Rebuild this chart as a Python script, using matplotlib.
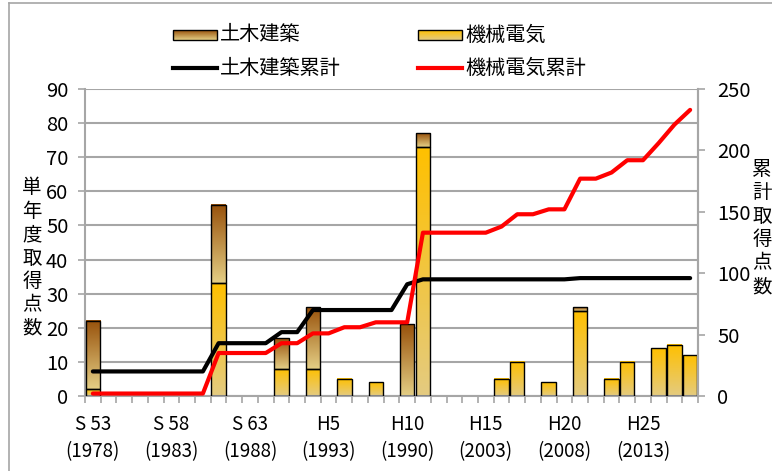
import numpy as np
import matplotlib.pyplot as plt
from matplotlib.colors import to_rgb
from matplotlib.patches import Rectangle

plt.rcParams['font.family'] = ['Noto Sans CJK JP', 'DejaVu Sans']

# fiscal years S53 (1978) .. H28 (2016)
years = list(range(1978, 2017))
civil = [20, 0, 0, 0, 0, 0, 0, 0, 23, 0,
         0, 0, 9, 0, 18, 0, 0, 0, 0, 0,
         21, 4, 0, 0, 0, 0, 0, 0, 0, 0,
         0, 1, 0, 0, 0, 0, 0, 0, 0]
mech = [2, 0, 0, 0, 0, 0, 0, 0, 33, 0,
        0, 0, 8, 0, 8, 0, 5, 0, 4, 0,
        0, 73, 0, 0, 0, 0, 5, 10, 0, 4,
        0, 25, 0, 5, 10, 0, 14, 15, 12]

tick_years = [1978, 1983, 1988, 1993, 1998, 2003, 2008, 2013]
era_labels = ['S 53', 'S 58', 'S 63', 'H5', 'H10', 'H15', 'H20', 'H25']
year_labels = ['(1978)', '(1983)', '(1988)', '(1993)', '(1990)', '(2003)', '(2008)', '(2013)']

CIVIL_TOP, CIVIL_BOT = '#98520C', '#E4CE84'
MECH_TOP, MECH_BOT = '#FFC000', '#E4CB80'
GRAY = '#A6A6A6'


def gradient(top, bot, n=64):
    c0 = np.array(to_rgb(bot))
    c1 = np.array(to_rgb(top))
    t = np.linspace(0, 1, n)[:, None]
    return (c0 + (c1 - c0) * t)[:, None, :]


def gradient_bar(ax, x, bottom, height, top, bot, width=0.92):
    if height <= 0:
        return
    ax.imshow(gradient(top, bot), extent=(x - width / 2, x + width / 2, bottom, bottom + height),
              origin='lower', aspect='auto', interpolation='bilinear', zorder=2)
    ax.bar(x, height, width, bottom=bottom, facecolor='none', edgecolor='black', lw=1, zorder=3)


fig = plt.figure(figsize=(7.72, 4.71), dpi=100)
ax = fig.add_axes([85 / 772, 75 / 471, 613 / 772, 307 / 471])

x = np.arange(len(years))
for i in range(len(years)):
    gradient_bar(ax, x[i], 0, mech[i], MECH_TOP, MECH_BOT)
    gradient_bar(ax, x[i], mech[i], civil[i], CIVIL_TOP, CIVIL_BOT)

ax.set_xlim(-0.5, len(years) - 0.5)
ax.set_ylim(0, 90)
ax.set_yticks(range(0, 91, 10))
ax.grid(axis='y', color=GRAY, lw=1.5, zorder=0)
ax.set_axisbelow(True)
for s in ['left', 'bottom', 'right']:
    ax.spines[s].set_color(GRAY)
    ax.spines[s].set_linewidth(1.5)
ax.spines['top'].set_visible(False)

pos = [years.index(y) for y in tick_years]
ax.set_xticks(pos, [f'{e}\n{y}' for e, y in zip(era_labels, year_labels)])
ax.set_xticks(np.arange(-0.5, len(years)), minor=True)
ax.tick_params(axis='x', which='major', length=0, pad=13, labelsize=13.5)
ax.tick_params(axis='x', which='minor', length=5, color=GRAY, width=1.2)
ax.tick_params(axis='y', length=5, color=GRAY, width=1.2, pad=7, labelsize=14.5)
for lab in ax.get_xticklabels():
    lab.set_linespacing(1.4)

# cumulative totals on the right axis
ax2 = ax.twinx()
ax2.plot(x, np.cumsum(civil), color='black', lw=3, solid_capstyle='round', zorder=4)
ax2.plot(x, np.cumsum(mech), color='#FF0000', lw=3, solid_capstyle='round', zorder=5)
ax2.set_ylim(0, 250)
ax2.set_yticks(range(0, 251, 50))
for s in ['left', 'bottom', 'top']:
    ax2.spines[s].set_visible(False)
ax2.spines['right'].set_color(GRAY)
ax2.spines['right'].set_linewidth(1.5)
ax2.tick_params(axis='y', length=5, color=GRAY, width=1.2, pad=9, labelsize=14.5)

# overlay in pixel coordinates: frame, legend, axis titles
ov = fig.add_axes([0, 0, 1, 1])
ov.set_xlim(0, 772)
ov.set_ylim(471, 0)
ov.axis('off')
ov.plot([8.5, 8.5], [471, 2.7], color=GRAY, lw=1.2)
ov.plot([8.5, 772], [2.7, 2.7], color=GRAY, lw=1.2)

for x0, top, bot, name in [(173, CIVIL_TOP, CIVIL_BOT, '土木建築'),
                           (418, MECH_TOP, MECH_BOT, '機械電気')]:
    ov.imshow(gradient(top, bot), extent=(x0, x0 + 44, 40, 30), origin='lower',
              aspect='auto', interpolation='bilinear')
    ov.add_patch(Rectangle((x0, 30), 44, 10, fill=False, ec='black', lw=1))
    ov.text(x0 + 47, 35, name, fontsize=14.5, va='center')

for x0, col, name in [(173, 'black', '土木建築累計'), (418, '#FF0000', '機械電気累計')]:
    ov.plot([x0, x0 + 44], [68, 68], color=col, lw=3)
    ov.text(x0 + 47, 68, name, fontsize=14.5, va='center')

ov.set_xlim(0, 772)
ov.set_ylim(471, 0)

ov.text(32, 258, '\n'.join('単年度取得点数'), fontsize=14, ha='center', va='center', linespacing=1.15)
ov.text(762, 228, '\n'.join('累計取得点数'), fontsize=14, ha='center', va='center', linespacing=1.15)

fig.savefig('out.png', dpi=100)
